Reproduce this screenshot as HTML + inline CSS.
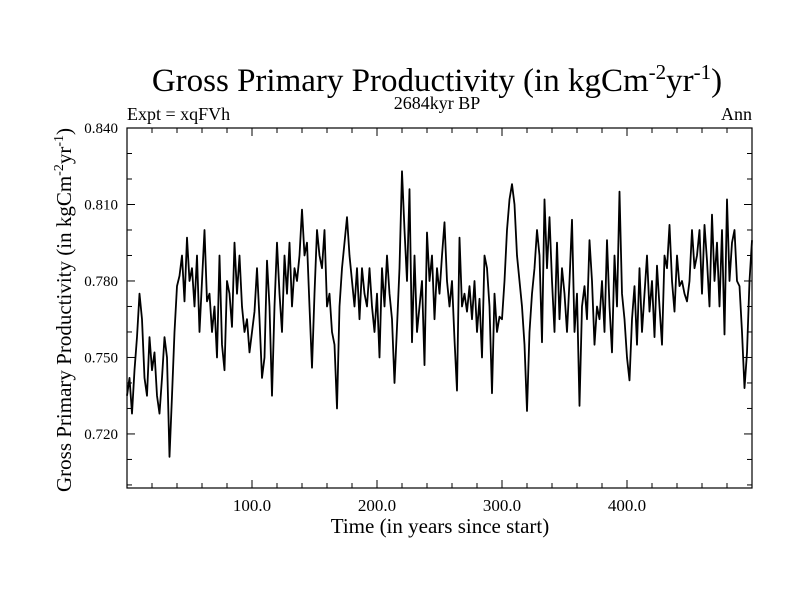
<!DOCTYPE html>
<html><head><meta charset="utf-8"><style>
body{margin:0;background:#fff}
svg text{font-family:"Liberation Serif",serif;fill:#000}
</style></head><body>
<svg id="chart" width="800" height="600" viewBox="0 0 800 600" xmlns="http://www.w3.org/2000/svg">
<rect width="800" height="600" fill="#fff"/>
<text x="437" y="91" font-size="33" text-anchor="middle">Gross Primary Productivity (in kgCm<tspan font-size="21" dy="-12">-2</tspan><tspan dy="12">yr</tspan><tspan font-size="21" dy="-12">-1</tspan><tspan dy="12">)</tspan></text>
<text x="437" y="109" font-size="18" text-anchor="middle">2684kyr BP</text>
<text x="127" y="120" font-size="18">Expt = xqFVh</text>
<text x="752" y="120" font-size="18" text-anchor="end">Ann</text>
<text x="440" y="533" font-size="21" text-anchor="middle">Time (in years since start)</text>
<text transform="translate(71,310) rotate(-90)" font-size="21" text-anchor="middle">Gross Primary Productivity (in kgCm<tspan font-size="14" dy="-8">-2</tspan><tspan dy="8">yr</tspan><tspan font-size="14" dy="-8">-1</tspan><tspan dy="8">)</tspan></text>
<g id="ticks"></g>
<g id="series"></g>
<rect x="127" y="128" width="625" height="360" fill="none" stroke="#000" stroke-width="1.2"/>
</svg>
<script>
const years=[];for(let i=0;i<=250;i++)years.push(i*2);
const gppA=[0.735,0.742,0.728,0.745,0.758,0.775,0.765,0.742,0.735,0.758,0.745,0.752,0.735,0.728,0.742,0.758,0.750,0.711,0.735,0.760,0.778,0.782,0.790,0.772,0.797,0.780,0.785,0.770,0.790,0.760,0.780,0.800,0.772,0.775,0.760,0.770,0.750,0.790,0.755,0.745,0.780,0.775,0.762,0.795,0.775,0.790,0.770,0.760,0.765,0.752];
const gppB=[0.760,0.768,0.785,0.765,0.742,0.750,0.788,0.770,0.735,0.770,0.795,0.775,0.760,0.790,0.775,0.795,0.770,0.785,0.780,0.790,0.808,0.790,0.795,0.770,0.746,0.775,0.800,0.790,0.785,0.800,0.770,0.775,0.760,0.755,0.730,0.770,0.785,0.795,0.805,0.790,0.780,0.770,0.785,0.765,0.785,0.775,0.770,0.785,0.770,0.760];
const gppC=[0.775,0.750,0.785,0.770,0.790,0.775,0.765,0.740,0.762,0.785,0.823,0.800,0.780,0.816,0.756,0.790,0.760,0.770,0.780,0.747,0.799,0.780,0.790,0.765,0.785,0.775,0.790,0.803,0.780,0.770,0.780,0.757,0.737,0.797,0.770,0.775,0.768,0.778,0.765,0.780,0.760,0.773,0.750,0.790,0.785,0.770,0.736,0.775,0.760,0.766];
const gppD=[0.765,0.780,0.800,0.812,0.818,0.810,0.790,0.780,0.770,0.755,0.729,0.760,0.775,0.785,0.800,0.790,0.756,0.812,0.785,0.805,0.780,0.760,0.795,0.765,0.785,0.775,0.760,0.780,0.804,0.760,0.775,0.731,0.770,0.778,0.765,0.796,0.780,0.755,0.770,0.765,0.780,0.760,0.796,0.770,0.752,0.790,0.770,0.815,0.775,0.765];
const gppE=[0.750,0.741,0.765,0.778,0.755,0.785,0.760,0.775,0.790,0.768,0.780,0.758,0.786,0.770,0.755,0.790,0.785,0.802,0.780,0.768,0.790,0.778,0.780,0.775,0.772,0.780,0.800,0.785,0.790,0.800,0.775,0.802,0.788,0.770,0.806,0.780,0.795,0.770,0.800,0.759,0.812,0.780,0.795,0.800,0.780,0.778,0.760,0.738,0.752,0.780,0.796];
const yTicks=[0.720,0.750,0.780,0.810,0.840];
const yTickLabels=["0.720","0.750","0.780","0.810","0.840"];
const xTicks=[100,200,300,400];
const xTickLabels=["100.0","200.0","300.0","400.0"];
const gpp=gppA.concat(gppB,gppC,gppD,gppE);
const X0=127,X1=752,Y0=488,Y1=128,XMIN=0,XMAX=500,YMIN=0.6988,YMAX=0.840;
const sx=v=>X0+(v-XMIN)/(XMAX-XMIN)*(X1-X0);
const sy=v=>Y0-(v-YMIN)/(YMAX-YMIN)*(Y0-Y1);
const NS="http://www.w3.org/2000/svg";
const tg=document.getElementById('ticks');
function ln(x1,y1,x2,y2){const l=document.createElementNS(NS,'line');l.setAttribute('x1',x1);l.setAttribute('y1',y1);l.setAttribute('x2',x2);l.setAttribute('y2',y2);l.setAttribute('stroke','#000');l.setAttribute('stroke-width','1');


tg.appendChild(l);}
for(let k=0;k<=14;k++){const v=0.700+k*0.010;if(v>YMAX+1e-9)break;const y=sy(v);const major=Math.abs(((v-0.720)/0.030)-Math.round((v-0.720)/0.030))<1e-6;const L=major?8:5;ln(X0,y,X0+L,y);ln(X1,y,X1-L,y);}
for(let v=20;v<XMAX;v+=20){const x=sx(v);const major=v%100===0;const L=major?8:5;ln(x,Y0,x,Y0-L);ln(x,Y1,x,Y1+L);}
yTicks.forEach((v,i)=>{const t=document.createElementNS(NS,'text');t.setAttribute('x',118);t.setAttribute('y',sy(v)+5);t.setAttribute('font-size','15');t.setAttribute('text-anchor','end');t.textContent=yTickLabels[i];


tg.appendChild(t);});
xTicks.forEach((v,i)=>{const t=document.createElementNS(NS,'text');t.setAttribute('x',sx(v));t.setAttribute('y',511);t.setAttribute('font-size','17');t.setAttribute('text-anchor','middle');t.textContent=xTickLabels[i];


tg.appendChild(t);});
const p=document.createElementNS(NS,'polyline');
p.setAttribute('points',gpp.map((v,i)=>sx(years[i]).toFixed(1)+','+sy(v).toFixed(1)).join(' '));
p.setAttribute('fill','none');p.setAttribute('stroke','#000');p.setAttribute('stroke-width','1.8');p.setAttribute('stroke-linejoin','round');


document.getElementById('series').appendChild(p);
</script>
</body></html>
